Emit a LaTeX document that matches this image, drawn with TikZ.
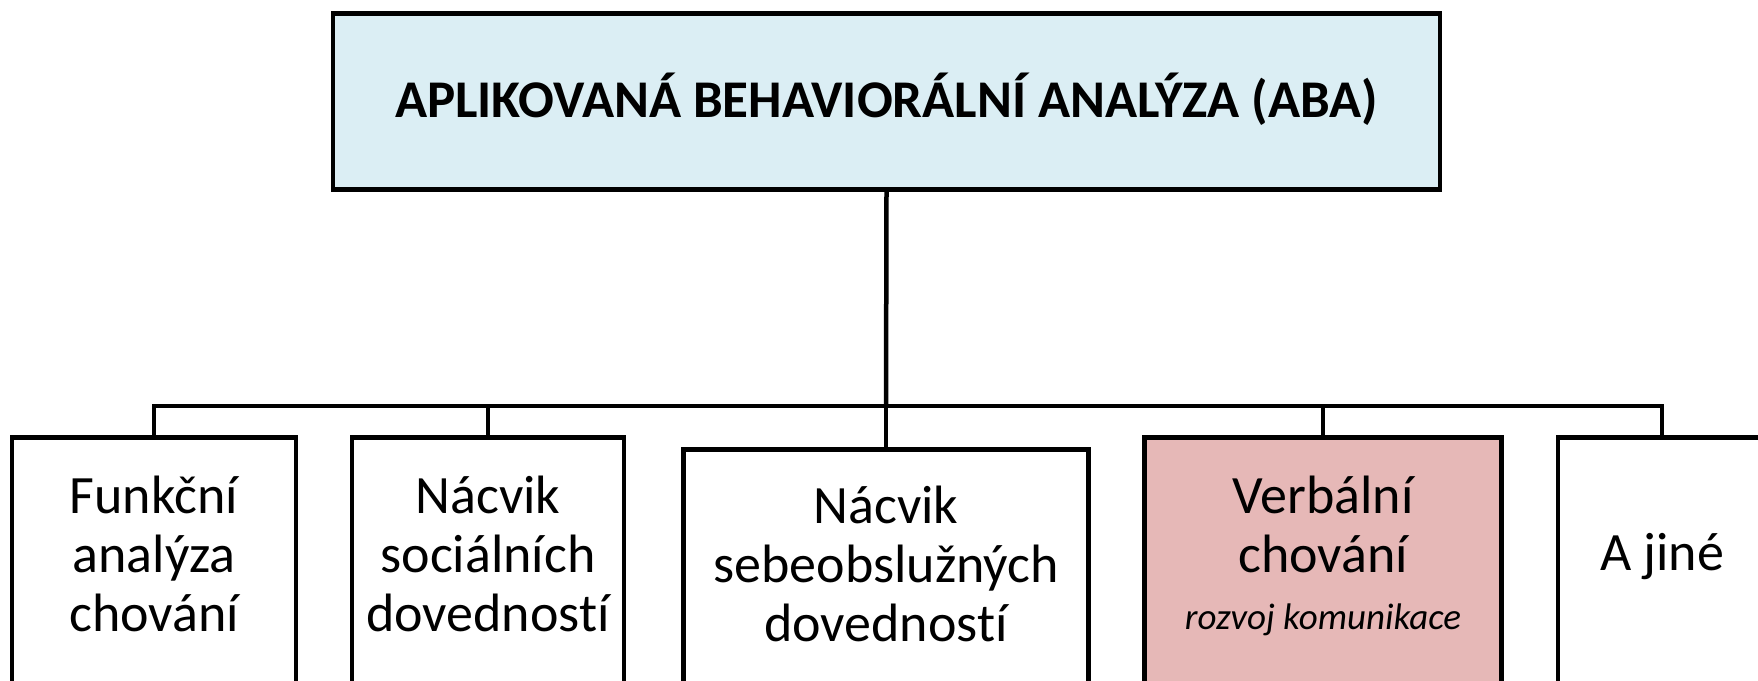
\documentclass[tikz,border=0pt]{standalone}
\usepackage{fontspec}
\setmainfont{Carlito}[Ligatures=NoCommon]
\definecolor{topblue}{RGB}{219,238,244}
\definecolor{verbpink}{RGB}{230,184,183}
\tikzset{
  boxframe/.style={draw=black, line width=4.5pt, anchor=north, inner sep=0pt},
  conn/.style={draw=black, line width=4.5pt},
  lbl/.style={align=center, font=\fontsize{54}{59}\selectfont, inner sep=0pt},
}
\begin{document}
\begin{tikzpicture}[x=1pt,y=-1pt]
\useasboundingbox (0,0) rectangle (1758,680);
\clip (0,0) rectangle (1758,680);
\node[boxframe, fill=topblue, minimum width=1107pt, minimum height=176pt] (top) at (886.5,11) {};
\node[font=\bfseries\fontsize{53}{60}\selectfont, inner sep=0pt] (toptxt) at (886.5,99) {APLIKOVANÁ BEHAVIORÁLNÍ ANALÝZA (ABA)};

\node[boxframe, fill=white, minimum width=284pt, minimum height=300pt] (b1) at (154,435) {};
\node[boxframe, fill=white, minimum width=272pt, minimum height=300pt] (b2) at (488,435) {};
\node[boxframe, fill=white, minimum width=405pt, minimum height=300pt] (b3) at (886,447) {};
\node[boxframe, fill=verbpink, minimum width=357pt, minimum height=300pt] (b4) at (1323,435) {};
\node[boxframe, fill=white, minimum width=284pt, minimum height=300pt] (b5) at (1700,435) {};

\coordinate (hb) at (886,406);
\draw[conn] (top.south) -- (hb);
\draw[conn, line cap=rect] (154,406) -- (1662,406);
\draw[conn] (154,406) -- (b1.north);
\draw[conn] (488,406) -- (b2.north);
\draw[conn] (hb) -- (b3.north);
\draw[conn] (1323,406) -- (b4.north);
\draw[conn] (1662,406) -- (1662,435);

\node[lbl] (t1) at (154,554) {Funkční\\analýza\\chování};
\node[lbl] (t2) at (488,554) {Nácvik\\sociálních\\dovedností};
\node[lbl] (t3) at (886,564) {Nácvik\\sebeobslužných\\dovedností};
\node[lbl] (t4) at (1323,524) {Verbální\\chování};
\node[font=\itshape\fontsize{37}{42}\selectfont, inner sep=0pt] (t4b) at (1323,620) {rozvoj komunikace};
\node[lbl] (t5) at (1662,557) {A jiné};
\end{tikzpicture}
\end{document}
